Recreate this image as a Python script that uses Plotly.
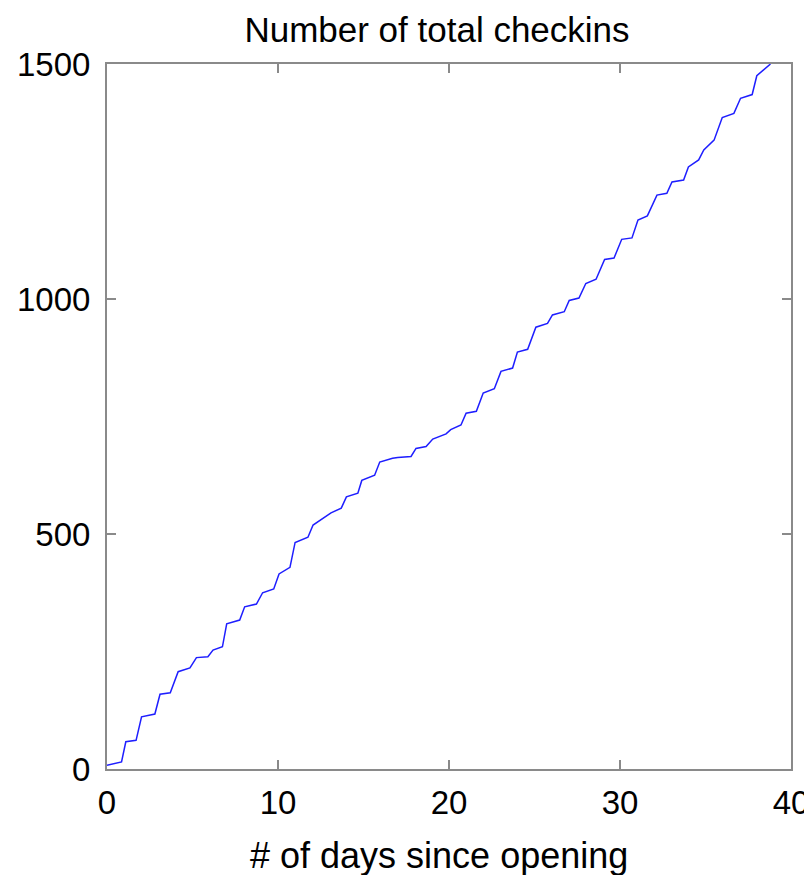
import plotly.graph_objects as go

# Cumulative checkins (day since opening, total)
days = [0.0, 0.85, 1.1, 1.7, 2.02, 2.8, 3.1, 3.7, 4.16, 4.85, 5.23, 5.9,
        6.2, 6.75, 7.0, 7.76, 8.05, 8.74, 9.1, 9.75, 10.06, 10.7, 11.0, 11.75,
        12.05, 12.8, 13.1, 13.7, 14.0, 14.67, 14.9, 15.65, 15.95, 16.7, 17.0,
        17.78, 18.07, 18.66, 19.05, 19.83, 20.1, 20.7, 21.0, 21.6, 22.0, 22.65,
        23.04, 23.72, 24.0, 24.6, 25.08, 25.76, 26.05, 26.74, 27.03, 27.6,
        28.0, 28.6, 29.1, 29.65, 30.1, 30.7, 31.05, 31.6, 32.16, 32.74, 33.04,
        33.72, 34.0, 34.6, 34.9, 35.5, 35.98, 36.66, 37.05, 37.73, 38.0, 38.8]
checkins = [8, 15, 58, 61, 111, 117, 159, 162, 207, 215, 237, 239, 253, 260,
            309, 317, 345, 351, 375, 383, 415, 429, 482, 493, 519, 537, 545,
            555, 579, 587, 614, 625, 653, 661, 663, 665, 682, 686, 702, 713,
            722, 732, 757, 761, 800, 809, 846, 853, 887, 893, 940, 948, 966,
            973, 997, 1002, 1033, 1042, 1084, 1087, 1127, 1130, 1168, 1177,
            1221, 1225, 1249, 1253, 1281, 1296, 1317, 1338, 1386, 1395, 1427,
            1435, 1475, 1500]

x_ticks = [0, 10, 20, 30, 40]
y_ticks = [0, 500, 1000, 1500]

FONT = "Liberation Sans, Arial, sans-serif"

# The page adds an 8px body margin, so the figure is sized to fit inside.
W, H = 804, 867

fig = go.Figure()
fig.add_trace(go.Scatter(
    x=days, y=checkins, mode="lines",
    line=dict(color="rgb(30,30,255)", width=1.5),
    showlegend=False, hoverinfo="x+y",
))

axis_common = dict(
    showline=True, linecolor="#8a8a8a", linewidth=2, mirror="ticks",
    ticks="inside", ticklen=9, tickwidth=1.5, tickcolor="#8a8a8a",
    showgrid=False, zeroline=False, automargin=False,
    tickfont=dict(family=FONT, size=33, color="black"),
)

fig.update_layout(
    width=W, height=H,
    paper_bgcolor="white", plot_bgcolor="white",
    margin=dict(l=99, r=21, t=56, b=106, autoexpand=False),
    font=dict(family=FONT, size=33, color="black"),
    title=dict(text="Number of total checkins", x=429 / W, xanchor="center",
               xref="container",
               y=1 - 22 / H, yanchor="middle", yref="container",
               font=dict(family=FONT, size=35, color="black")),
    xaxis=dict(range=[0, 40], tickvals=x_ticks,
               ticktext=[str(v) for v in x_ticks],
               ticklabelstandoff=3,
               **axis_common),
    yaxis=dict(range=[0, 1500], tickvals=y_ticks,
               ticktext=[str(v) for v in y_ticks],
               ticklabelstandoff=8,
               **axis_common),
    annotations=[dict(
        text="# of days since opening", xref="paper", yref="paper",
        x=0.485, y=0, xanchor="center", yanchor="middle", yshift=-86,
        showarrow=False, font=dict(family=FONT, size=36, color="black"),
    )],
)

fig.write_html("out.html")
